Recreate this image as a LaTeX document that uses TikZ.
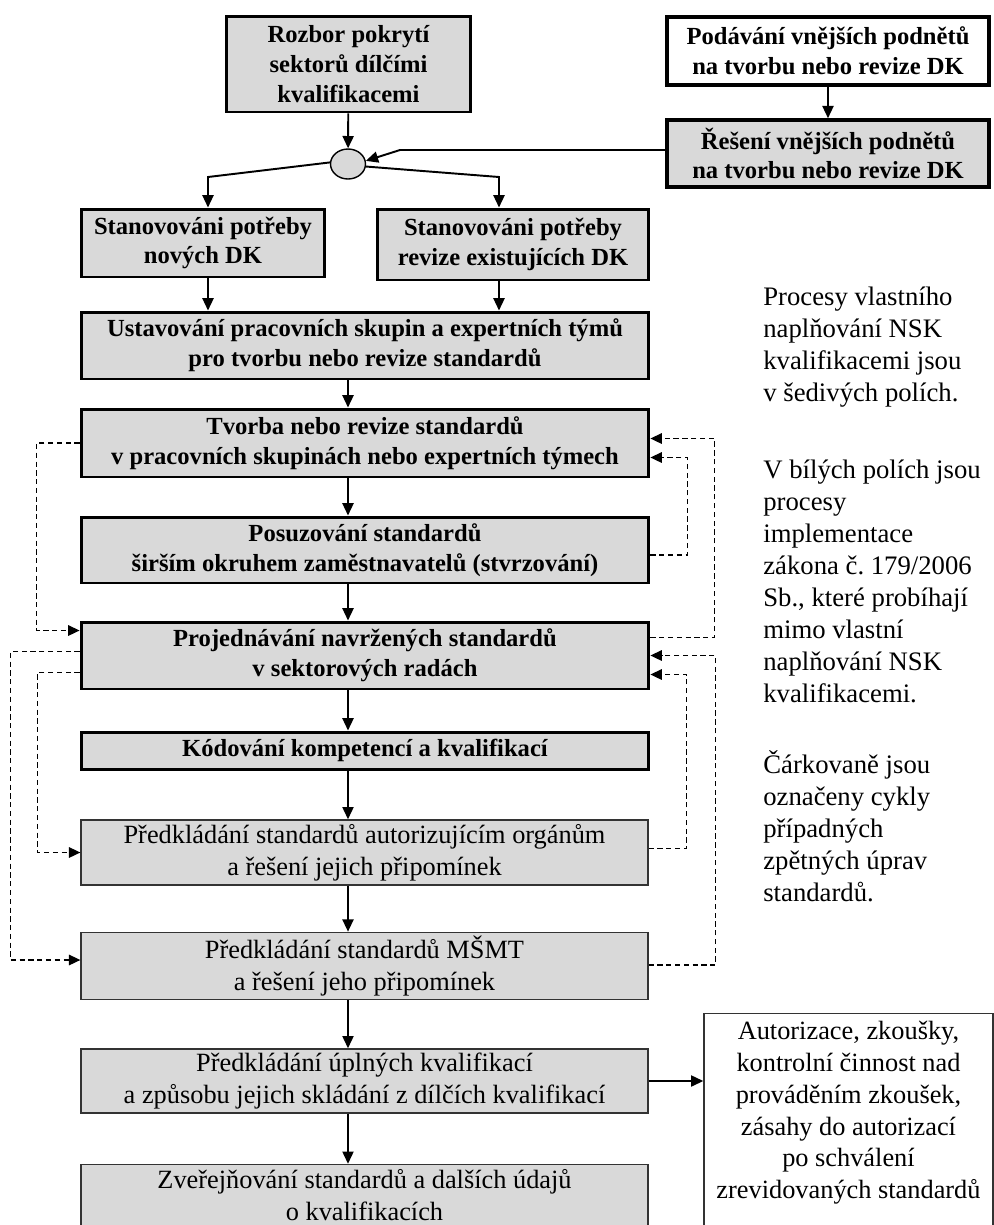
\documentclass[tikz,border=0pt]{standalone}
\usepackage{fontspec}
\setmainfont{Liberation Serif}
\usetikzlibrary{shapes.geometric, arrows.meta, calc}
\definecolor{polegray}{RGB}{217,217,217}

\begin{document}
\begin{tikzpicture}[
    x=0.02cm, y=-0.02cm,
    process/.style={rectangle, draw=black, line width=1.7pt, fill=polegray, align=center, inner sep=2pt, font=\bfseries\fontsize{14}{17}\selectfont},
    implement/.style={rectangle, draw=black!80, line width=0.8pt, fill=polegray, align=center, inner sep=2pt, font=\fontsize{15}{18.2}\selectfont},
    junction/.style={ellipse, draw=black, line width=0.8pt, fill=polegray, minimum width=0.7cm, minimum height=0.6cm, inner sep=0pt},
    note/.style={anchor=north west, align=left, inner sep=0pt, font=\fontsize{15.2}{18.2}\selectfont},
    arrow/.style={-{Triangle[length=7pt, width=6.3pt]}, line width=1.1pt, draw=black},
    backarrow/.style={-{Triangle[length=6.5pt, width=6pt]}, line width=0.8pt, dash pattern=on 3pt off 2pt, draw=black}
]
\useasboundingbox (0,0) rectangle (994,1225);
\clip (0,0) rectangle (994,1225);

\node[process, minimum width=4.9cm, minimum height=1.92cm] (rozbor) at (348.5, 64) {Rozbor pokrytí\\sektorů dílčími\\kvalifikacemi};
\node[process, fill=white, line width=2pt, minimum width=6.44cm, minimum height=1.36cm] (podnety) at (828, 51) {Podávání vnějších podnětů\\na tvorbu nebo revize DK};
\node[process, line width=2pt, minimum width=6.44cm, minimum height=1.34cm] (reseni) at (828, 153.5) {Řešení vnějších podnětů\\na tvorbu nebo revize DK};
\node[junction] (uzel) at (348, 164) {};

\node[process, minimum width=4.88cm, minimum height=1.36cm] (nove) at (203, 243) {Stanovováni potřeby\\nových DK};
\node[process, minimum width=5.44cm, minimum height=1.42cm] (revize) at (513, 244.5) {Stanovováni potřeby\\revize existujících DK};

\node[process, minimum width=11.36cm, minimum height=1.34cm] (ustav) at (365, 345.5) {Ustavování pracovních skupin a expertních týmů\\pro tvorbu nebo revize standardů};
\node[process, minimum width=11.36cm, minimum height=1.36cm] (tvorba) at (365, 443) {Tvorba nebo revize standardů\\v pracovních skupinách nebo expertních týmech};
\node[process, minimum width=11.36cm, minimum height=1.32cm] (posuz) at (365, 550) {Posuzování standardů\\širším okruhem zaměstnavatelů (stvrzování)};
\node[process, minimum width=11.36cm, minimum height=1.34cm] (projed) at (365, 655.5) {Projednávání navržených standardů\\v sektorových radách};
\node[process, minimum width=11.36cm, minimum height=0.74cm] (kodov) at (365, 750.5) {Kódování kompetencí a kvalifikací};

\node[implement, minimum width=11.34cm, minimum height=1.3cm] (predaut) at (364.5, 852.5) {Předkládání standardů autorizujícím orgánům\\a řešení jejich připomínek};
\node[implement, minimum width=11.34cm, minimum height=1.32cm] (predmsmt) at (364.5, 966) {Předkládání standardů MŠMT\\a řešení jeho připomínek};
\node[implement, minimum width=11.34cm, minimum height=1.28cm] (predupl) at (364.5, 1081) {Předkládání úplných kvalifikací\\a způsobu jejich skládání z dílčích kvalifikací};
\node[implement, minimum width=11.34cm, minimum height=1.22cm] (zverej) at (364.5, 1195) {Zveřejňování standardů a dalších údajů\\o kvalifikacích};

\node[implement, fill=white, minimum width=5.78cm, anchor=north, inner sep=4pt, text depth=1.2cm] (autoriz) at (848.5, 1013) {Autorizace, zkoušky,\\kontrolní činnost nad\\prováděním zkoušek,\\zásahy do autorizací\\po schválení\\zrevidovaných standardů};

\node[note] (pozn1) at (763, 287) {Procesy vlastního\\naplňování NSK\\kvalifikacemi jsou\\v šedivých polích.};
\node[note] (pozn2) at (763, 460) {V bílých polích jsou\\procesy\\implementace\\zákona č.~179/2006\\Sb., které probíhají\\mimo vlastní\\naplňování NSK\\kvalifikacemi.};
\node[note] (pozn3) at (763, 750) {Čárkovaně jsou\\označeny cykly\\případných\\zpětných úprav\\standardů.};

\coordinate (zlom) at (400, 150);
\coordinate (rozvL) at (208, 177);
\coordinate (rozvR) at (499, 177);

\draw[arrow] (rozbor) -- (uzel);
\draw[arrow] (podnety) -- (reseni);
\draw[arrow] (reseni.west |- zlom) -- (zlom) -- (uzel.10);
\draw[arrow] (uzel.175) -- (rozvL) -- (rozvL |- nove.north);
\draw[arrow] (uzel.-8) -- (rozvR) -- (rozvR |- revize.north);
\draw[arrow] (rozvL |- nove.south) -- (rozvL |- ustav.north);
\draw[arrow] (rozvR |- revize.south) -- (rozvR |- ustav.north);

\draw[arrow] (uzel |- ustav.south) -- (uzel |- tvorba.north);
\draw[arrow] (uzel |- tvorba.south) -- (uzel |- posuz.north);
\draw[arrow] (uzel |- posuz.south) -- (uzel |- projed.north);
\draw[arrow] (uzel |- projed.south) -- (uzel |- kodov.north);
\draw[arrow] (uzel |- kodov.south) -- (uzel |- predaut.north);
\draw[arrow] (uzel |- predaut.south) -- (uzel |- predmsmt.north);
\draw[arrow] (uzel |- predmsmt.south) -- (uzel |- predupl.north);
\draw[arrow] (uzel |- predupl.south) -- (uzel |- zverej.north);
\draw[arrow] (predupl.east) -- (autoriz.west |- predupl.east);

% cykly zpetnych uprav
\draw[backarrow] (tvorba.west) -- ++(-43,0) |- ($(projed.north west)+(0,10)$);
\draw[backarrow] ($(posuz.east)+(0,5)$) -- ++(37,0) |- ($(tvorba.north east)+(0,50)$);
\draw[backarrow] ($(projed.north east)+(0,17)$) -- ++(64,0) |- ($(tvorba.north east)+(0,31)$);
\draw[backarrow] ($(projed.north west)+(0,31)$) -- ++(-69,0) |- ($(predmsmt.west)+(0,-6)$);
\draw[backarrow] ($(projed.north west)+(0,52)$) -- ++(-42,0) |- (predaut.west);
\draw[backarrow] ($(predaut.east)+(0,-4)$) -- ++(38,0) |- ($(projed.north east)+(0,54)$);
\draw[backarrow] ($(predmsmt.east)+(0,-1)$) -- ++(67,0) |- ($(projed.north east)+(0,35)$);

\end{tikzpicture}
\end{document}
